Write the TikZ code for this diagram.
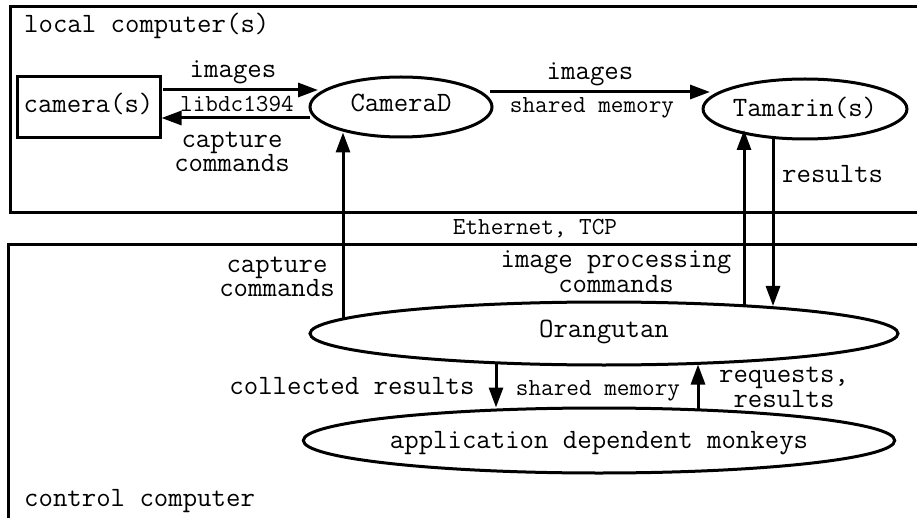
\documentclass[tikz,border=0pt]{standalone}
\usepackage{fontspec}
\usetikzlibrary{shapes.geometric,arrows.meta}
\tikzset{
  big/.style={font=\ttfamily\fontsize{28}{24.5}\selectfont, inner sep=0pt, anchor=base, align=center},
  small/.style={font=\ttfamily\fontsize{24.5}{24.5}\selectfont, inner sep=0pt, anchor=base},
  frame/.style={line width=3pt},
  proc/.style={draw, ellipse, line width=3pt, inner sep=0pt, text height=15pt, text depth=5pt,
               font=\ttfamily\fontsize{28}{28}\selectfont},
  arr/.style={line width=3pt, -{Triangle[length=20pt,width=14pt]}},
}
\begin{document}
\begin{tikzpicture}[x=1pt,y=-1pt]
\useasboundingbox (0,0) rectangle (917,518);
\clip (0,0) rectangle (917,518);
\fill[white] (0,0) rectangle (917,518);

% machine frames
\draw[frame] (10,7) rectangle (940,213);
\draw[frame] (8,245) rectangle (940,540);
\node[big, anchor=base west] (localtitle) at (24,33) {local computer(s)};
\node[big, anchor=base west] (controltitle) at (24,506) {control computer};

% processes
\node[draw, line width=3pt, minimum width=143pt, minimum height=61pt, inner sep=0pt,
      text height=15pt, text depth=5pt, font=\ttfamily\fontsize{28}{28}\selectfont]
      (camera) at (88.5,107.5) {camera(s)};
\node[proc, minimum width=182pt, minimum height=60pt] (cameraD) at (401,107) {CameraD};
\node[proc, minimum width=186pt, minimum height=60pt, text height=18pt, text depth=2pt]
      (tamarin) at (805,109) {Tamarin(s)};
\node[proc, minimum width=588pt, minimum height=63pt, text height=13pt, text depth=6pt]
      (orangutan) at (604,333.5) {Orangutan};
\node[proc, minimum width=588pt, minimum height=65pt, text height=17pt, text depth=2pt]
      (monkeys) at (599,440.5) {application dependent monkeys};

% camera link (multi-line labels sit on the baseline of their last line)
\draw[arr] ([shift={(74.5,-17.5)}]camera.center) -- ([shift={(-83,-17)}]cameraD.center);
\draw[arr] ([shift={(-91,11)}]cameraD.center) -- ([shift={(73,10.5)}]camera.center);
\node[big] (l1) at (233,78) {images};
\node[small] (l2) at (237,112) {libdc1394};
\node[big] (l3) at (232,172) {capture\\commands};

% CameraD to Tamarin
\draw[arr] ([shift={(89,-15)}]cameraD.center) -- ([shift={(-95,-17)}]tamarin.center);
\node[big] (l4) at (590,80) {images};
\node[small] (l5) at (592,113) {shared memory};

% network links
\draw[arr] ([shift={(-261,-14.5)}]orangutan.center) -- ([shift={(-58,25.5)}]cameraD.center);
\draw[arr] ([shift={(140,-27.7)}]orangutan.center) -- ([shift={(-61,21)}]tamarin.center);
\draw[arr] ([shift={(-32,28.2)}]tamarin.center) -- ([shift={(169,-27.5)}]orangutan.center);
\node[big, anchor=base west] (l6) at (782,183) {results};
\node[small] (l7) at (535,235) {Ethernet, TCP};
\node[big] (l8) at (277,297) {capture\\commands};
\node[big] (l9) at (616,292) {image processing\\commands};

% Orangutan and monkeys
\draw[arr] ([shift={(-108,29.3)}]orangutan.center) -- ([shift={(-103,-33)}]monkeys.center);
\draw[arr] ([shift={(99,-30.6)}]monkeys.center) -- ([shift={(94,31)}]orangutan.center);
\node[big] (l10) at (352,394) {collected results};
\node[small] (l11) at (598,395) {shared memory};
\node[big] (l12) at (784,407) {requests,\\results};
\end{tikzpicture}
\end{document}
